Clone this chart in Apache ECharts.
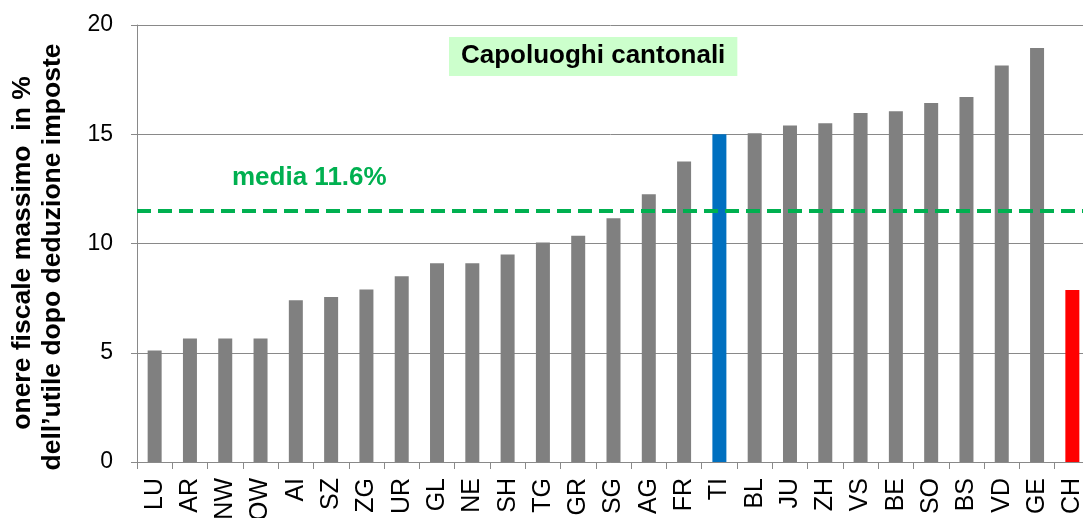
<!DOCTYPE html>
<html lang="it">
<head>
    <meta charset="UTF-8">
    <title>Onere fiscale massimo - capoluoghi cantonali</title>
    <script src="https://cdn.jsdelivr.net/npm/echarts@6/dist/echarts.min.js"></script>
    <style>
        html, body { margin: 0; padding: 0; background: #fff; }
        #main { width: 1083px; height: 518px; }
    </style>
</head>
<body>
    <div id="main"></div>
</body>
</html>
<script type="text/javascript">
    // dati
    var cantoni = ['LU', 'AR', 'NW', 'OW', 'AI', 'SZ', 'ZG', 'UR', 'GL', 'NE', 'SH', 'TG', 'GR', 'SG',
        'AG', 'FR', 'TI', 'BL', 'JU', 'ZH', 'VS', 'BE', 'SO', 'BS', 'VD', 'GE', 'CH'];
    var onere = [5.1, 5.65, 5.65, 5.65, 7.4, 7.55, 7.9, 8.5, 9.1, 9.1, 9.5, 10.05, 10.35, 11.15,
        12.25, 13.75, 15.0, 15.05, 15.4, 15.5, 15.97, 16.05, 16.43, 16.7, 18.15, 18.95, 7.87];
    var yTicks = [0, 5, 10, 15, 20];
    var media = 11.5;
    var mediaTesto = 'media 11.6%';
    var titolo = 'Capoluoghi cantonali';
    var titoloAsseY = ['onere fiscale massimo  in %', 'dell\u2019utile dopo deduzione imposte'];

    // colori speciali (Ticino, Svizzera)
    var coloriSpeciali = { TI: '#0070C0', CH: '#FF0000' };
    var grigio = '#808080';
    var font = 'Arial, "Liberation Sans", sans-serif';

    var barData = [];
    for (var i = 0; i < onere.length; i++) {
        barData.push({
            value: onere[i],
            itemStyle: { color: coloriSpeciali[cantoni[i]] || grigio }
        });
    }

    var myChart = echarts.init(document.getElementById('main'));

    var option = {
        animation: false,
        grid: { left: 137, top: 25, width: 953, height: 437, containLabel: false, outerBoundsMode: 'none' },
        xAxis: {
            type: 'category',
            data: cantoni,
            axisLine: { lineStyle: { color: '#898989', width: 1 } },
            axisTick: { show: true, length: 7, lineStyle: { color: '#898989' } },
            axisLabel: {
                rotate: 90, interval: 0, margin: 16,
                fontSize: 25, color: '#000', fontFamily: font
            }
        },
        yAxis: {
            type: 'value',
            min: yTicks[0],
            max: yTicks[yTicks.length - 1],
            interval: yTicks[1] - yTicks[0],
            axisLine: { show: true, lineStyle: { color: '#898989', width: 1 } },
            axisTick: { show: true, length: 6, lineStyle: { color: '#898989' } },
            axisLabel: { fontSize: 23, color: '#000', margin: 24, fontFamily: font },
            splitLine: { lineStyle: { color: '#898989', width: 1 } }
        },
        series: [{
            type: 'bar',
            data: barData,
            barWidth: 14,
            markLine: {
                silent: true,
                symbol: 'none',
                label: { show: false },
                lineStyle: { color: '#00B050', width: 4, type: [14, 7] },
                data: [{ yAxis: media }]
            }
        }],
        graphic: [{
            type: 'text',
            left: 449,
            top: 37,
            style: {
                text: titolo,
                font: 'bold 26px ' + font,
                fill: '#000',
                backgroundColor: '#CCFFCC',
                padding: [6, 12, 7, 12]
            }
        }, {
            type: 'text',
            left: 232,
            top: 165,
            style: {
                text: mediaTesto,
                font: 'bold 26px ' + font,
                fill: '#00B050'
            }
        }, {
            // titolo asse y, riga 1
            type: 'text',
            x: 23, y: 253,
            rotation: Math.PI / 2,
            style: {
                text: titoloAsseY[0],
                font: 'bold 26.5px ' + font,
                fill: '#000',
                textAlign: 'center',
                textVerticalAlign: 'middle'
            }
        }, {
            // riga 2
            type: 'text',
            x: 53, y: 257,
            rotation: Math.PI / 2,
            style: {
                text: titoloAsseY[1],
                font: 'bold 26.5px ' + font,
                fill: '#000',
                textAlign: 'center',
                textVerticalAlign: 'middle'
            }
        }]
    };

    myChart.setOption(option);
</script>
